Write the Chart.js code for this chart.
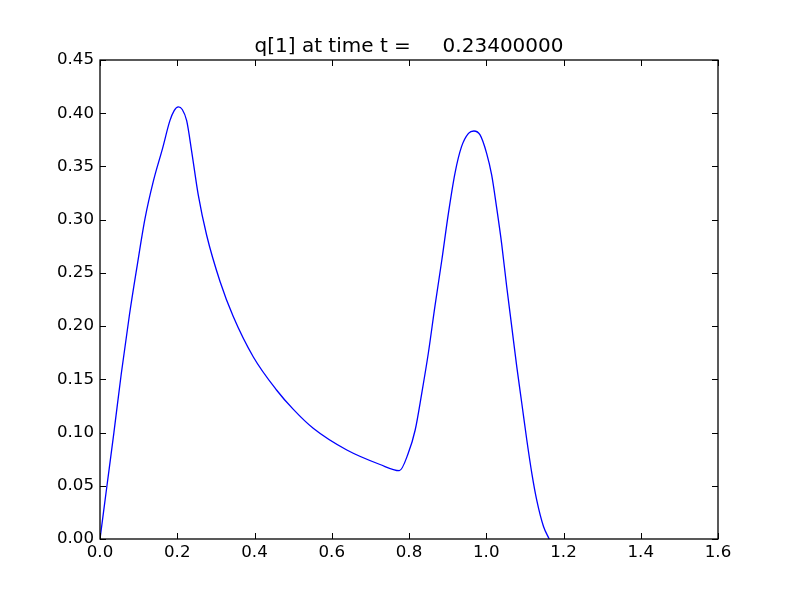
<!DOCTYPE html>
<html>
<head>
<meta charset="utf-8">
<script src="https://cdn.jsdelivr.net/npm/chart.js@4.4.1/dist/chart.umd.min.js"></script>
<style>
  html,body{margin:0;padding:0;background:#fff;}
  #wrap{width:800px;height:600px;}
</style>
</head>
<body>
<div id="wrap"><canvas id="c" width="800" height="600"></canvas></div>
<script>
// values: q[1] vs x
const xs=[0,0.018,0.036,0.055,0.076,0.095,0.1165,0.138,0.162,0.181,0.192,0.2028,0.213,0.2244,0.2374,0.2545,0.276,0.311,0.345,0.397,0.457,0.50,0.552,0.639,0.725,0.775,0.798,0.816,0.833,0.850,0.867,0.885,0.902,0.919,0.936,0.954,0.968,0.984,1.001,1.014,1.027,1.040,1.053,1.066,1.079,1.092,1.105,1.118,1.131,1.148,1.163];
const ys=[0,0.05,0.10,0.155,0.210,0.254,0.301,0.336,0.367,0.393,0.4025,0.406,0.4035,0.393,0.364,0.323,0.2856,0.2417,0.209,0.171,0.140,0.122,0.104,0.0836,0.070,0.0642,0.0805,0.1024,0.1369,0.1745,0.2183,0.2621,0.306,0.3436,0.3686,0.3811,0.3833,0.3796,0.3623,0.342,0.311,0.277,0.237,0.1995,0.162,0.1275,0.093,0.0617,0.036,0.012,0];
const xTicks=[0,0.2,0.4,0.6,0.8,1.0,1.2,1.4,1.6];
const yTicks=[0,0.05,0.10,0.15,0.20,0.25,0.30,0.35,0.40,0.45];
const titleText='q[1] at time t =     0.23400000';

const FONT='DejaVu Sans';
const pts=xs.map((x,i)=>({x,y:ys[i]}));

// frame + inward ticks on all four sides, title centred on the axes
const frame={
  id:'frame',
  afterDatasetsDraw(chart){
    const {ctx,chartArea:a,scales}=chart;
    const TL=6;
    ctx.save();
    ctx.strokeStyle='#000';
    ctx.lineWidth=1;
    ctx.beginPath();
    scales.x.ticks.forEach((t,i)=>{
      const px=Math.round(scales.x.getPixelForTick(i))+0.5;
      ctx.moveTo(px,a.bottom);ctx.lineTo(px,a.bottom-TL);
      ctx.moveTo(px,a.top);ctx.lineTo(px,a.top+TL);
    });
    scales.y.ticks.forEach((t,i)=>{
      const py=Math.round(scales.y.getPixelForTick(i))+0.5;
      ctx.moveTo(a.left,py);ctx.lineTo(a.left+TL,py);
      ctx.moveTo(a.right,py);ctx.lineTo(a.right-TL,py);
    });
    ctx.stroke();
    ctx.lineWidth=1.3;
    ctx.strokeRect(a.left,a.top,a.right-a.left,a.bottom-a.top);
    ctx.fillStyle='#000';
    ctx.font='20px "'+FONT+'"';
    ctx.textAlign='center';ctx.textBaseline='alphabetic';
    ctx.fillText(titleText,(a.left+a.right)/2,a.top-8);
    ctx.restore();
  }
};

new Chart(document.getElementById('c'),{
  type:'line',
  data:{datasets:[{data:pts,borderColor:'#0000ff',borderWidth:1.3,pointRadius:0,fill:false,cubicInterpolationMode:'monotone'}]},
  options:{
    responsive:false,animation:false,
    layout:{padding:{left:0,right:82,top:60,bottom:0}},
    plugins:{legend:{display:false},tooltip:{enabled:false},title:{display:false}},
    scales:{
      x:{type:'linear',min:0,max:1.6,
        afterBuildTicks:s=>{s.ticks=xTicks.map(v=>({value:v}));},
        afterFit:s=>{s.height=61;},
        grid:{display:false,drawTicks:false},border:{display:false},
        ticks:{color:'#000',padding:4,maxRotation:0,font:{family:FONT,size:16.67},callback:v=>v.toFixed(1)}},
      y:{type:'linear',min:0,max:0.45,
        afterBuildTicks:s=>{s.ticks=yTicks.map(v=>({value:v}));},
        afterFit:s=>{s.width=100;},
        grid:{display:false,drawTicks:false},border:{display:false},
        ticks:{color:'#000',padding:6,font:{family:FONT,size:16.67},callback:v=>v.toFixed(2)}}
    }
  },
  plugins:[frame]
});
</script>
</body>
</html>
